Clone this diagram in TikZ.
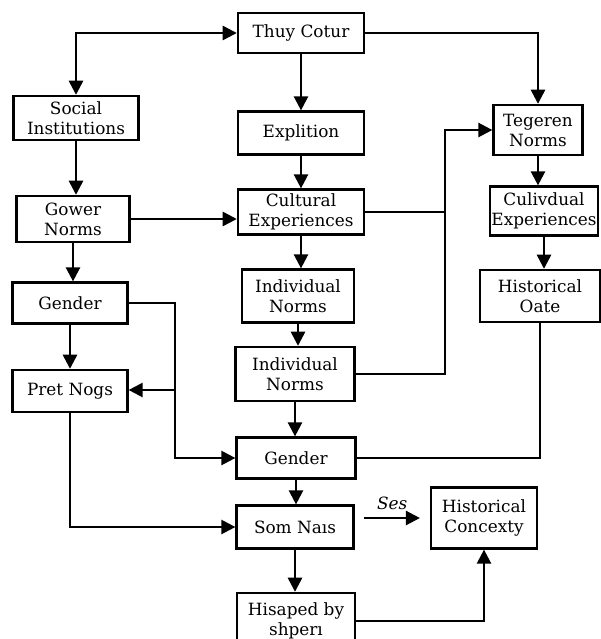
\documentclass[tikz,border=0pt]{standalone}
\usepackage{fontspec}
\setmainfont{DejaVu Serif}
\usetikzlibrary{arrows.meta}

\begin{document}
\begin{tikzpicture}[x=0.025cm,y=-0.025cm,
  box/.style={draw, line width=1.7pt, align=center, inner sep=0pt,
    font=\fontsize{12}{14.2}\selectfont},
  line/.style={line width=1.7pt},
  >={Triangle[length=10pt,width=10pt]}]
\useasboundingbox (0,0) rectangle (600,639);

% middle column
\node[box, minimum width=3.15cm, minimum height=1cm] (thuy) at (301,33) {Thuy Cotur};
\node[box, minimum width=3.15cm, minimum height=1.07cm] (expl) at (301,133) {Explition};
\node[box, minimum width=3.15cm, minimum height=1.12cm] (cult) at (301,212) {Cultural\\Experiences};
\node[box, minimum width=2.8cm, minimum height=1.32cm] (ind1) at (298,296) {Individual\\Norms};
\node[box, minimum width=2.97cm, minimum height=1.35cm] (ind2) at (295,374) {Individual\\Norms};
\node[box, minimum width=2.97cm, minimum height=1.02cm] (genc) at (296,458) {Gender};
\node[box, minimum width=2.92cm, minimum height=1.07cm] (som) at (295,527) {Som Naıs};
\node[box, minimum width=2.95cm, minimum height=1.4cm] (his) at (296,621) {Hisaped by\\shperı};

% left column
\node[box, minimum width=3.12cm, minimum height=1.1cm] (soc) at (76,118) {Social\\Institutions};
\node[box, minimum width=2.82cm, minimum height=1.15cm] (gow) at (73,219) {Gower\\Norms};
\node[box, minimum width=2.87cm, minimum height=1.02cm] (genl) at (70,303) {Gender};
\node[box, minimum width=2.87cm, minimum height=1.05cm] (pret) at (70,391) {Pret Nogs};

% right column
\node[box, minimum width=2.22cm, minimum height=1.25cm] (teg) at (538,130) {Tegeren\\Norms};
\node[box, minimum width=2.7cm, minimum height=1.22cm] (culiv) at (544,211) {Culivdual\\Experiences};
\node[box, minimum width=3cm, minimum height=1.3cm] (hoate) at (540,296) {Historical\\Oate};
\node[box, minimum width=2.65cm, minimum height=1.52cm] (hcon) at (484,518) {Historical\\Concexty};

\coordinate (split) at (175,390);
\coordinate (bus) at (445,212);

% arrows
\draw[line,<->] (soc.north) |- (thuy.west);
\draw[line,->] (thuy.east) -| (teg.north);
\draw[line,->] (thuy) -- (expl);
\draw[line,->] (expl) -- (cult);
\draw[line,->] (cult.south) -- (cult.south |- ind1.north);
\draw[line,->] (ind1.south) -- (ind1.south |- ind2.north);
\draw[line,->] (ind2.south) -- (ind2.south |- genc.north);
\draw[line,->] (genc.south) -- (genc.south |- som.north);
\draw[line,->] (som.south) -- (som.south |- his.north);

\draw[line,->] (soc.south) -- (soc.south |- gow.north);
\draw[line,->] (gow.east) -- (gow.east -| cult.west);
\draw[line,->] (gow.south) -- (gow.south |- genl.north);
\draw[line,->] (genl) -- (pret);
\draw[line,->] (genl.east) -| (split) |- (genc.west);
\draw[line,->] (split) -- (split -| pret.east);
\draw[line,->] (pret.south) |- (som.west);

\draw[line] (cult.east) -- (bus);
\draw[line,->] (ind2.east) -| (bus) |- (teg.west);
\draw[line,->] (teg.south) -- (teg.south |- culiv.north);
\draw[line,->] (culiv.south) -- (culiv.south |- hoate.north);
\draw[line] (hoate.south) |- (genc.east);

\draw[line,->,shorten <=7pt,shorten >=7pt] (som.east |- hcon.west) -- (hcon.west)
  node[midway,above=2pt,font=\fontsize{12}{14}\selectfont\itshape] {Ses};
\draw[line,->] (his.east) -| (hcon.south);
\end{tikzpicture}
\end{document}
